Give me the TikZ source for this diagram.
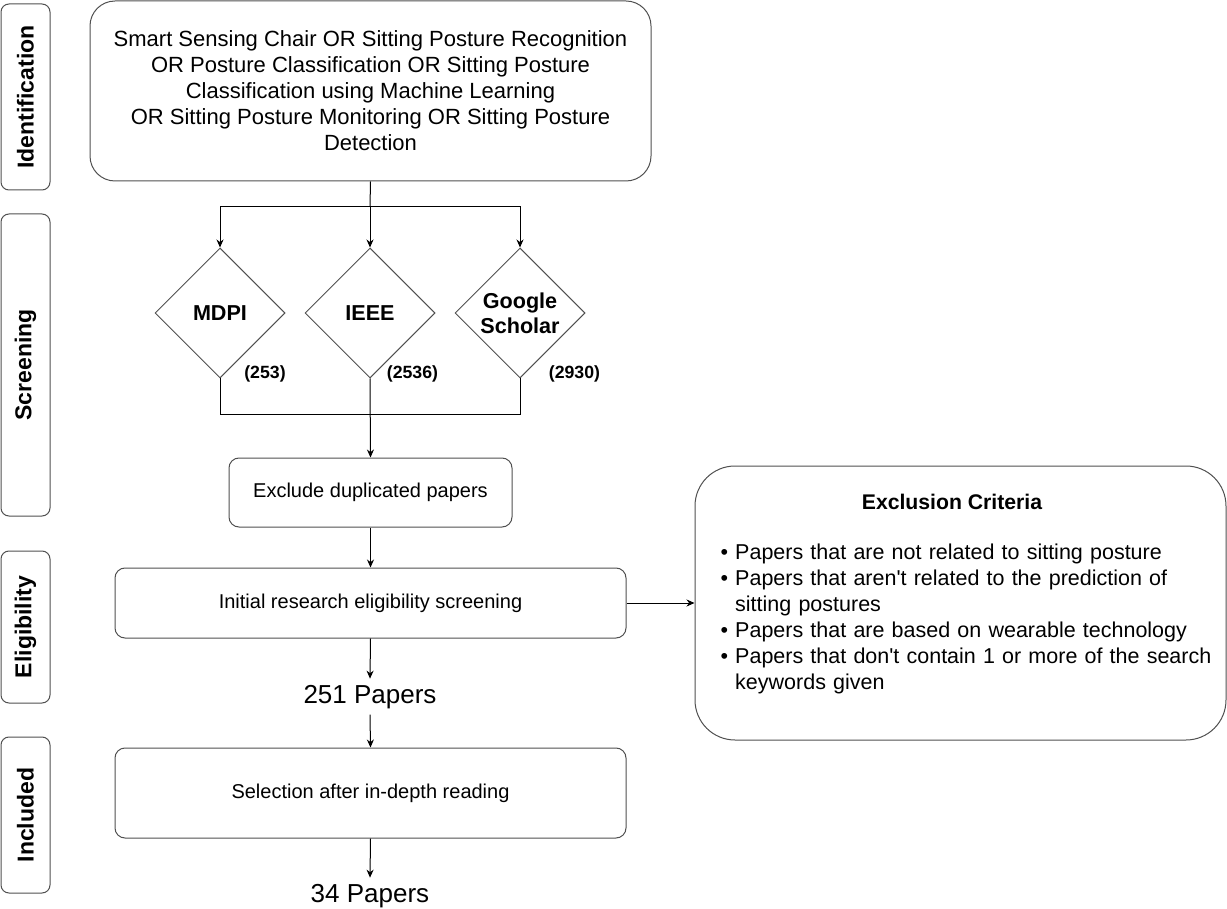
\documentclass[tikz,border=0pt]{standalone}
\usepackage{fontspec}
\setmainfont{Liberation Sans}
\usepackage{enumitem}
\usepackage{tikz}
\usetikzlibrary{calc}
\usetikzlibrary{arrows.meta}
\usetikzlibrary{shapes.geometric}
\usetikzlibrary{positioning}
\definecolor{shapegray}{RGB}{80, 80, 80}
\tikzset{
    stagebox/.style   = {draw=shapegray, line width=1pt, rounded corners=8pt, rotate=90, minimum height=49pt,
                         inner sep=0pt, font=\bfseries\fontsize{23}{27}\selectfont},
    flowbox/.style    = {draw=shapegray, line width=1pt, rounded corners=10pt, align=center, inner sep=0pt,
                         font=\fontsize{20}{24}\selectfont},
    sourcebox/.style  = {diamond, aspect=1, draw=shapegray, line width=1pt, minimum size=130pt, inner sep=0pt,
                         align=center, font=\bfseries\fontsize{21.6}{25}\selectfont},
    countlabel/.style = {inner sep=0pt, font=\bfseries\fontsize{17.7}{20}\selectfont},
    paperlabel/.style = {inner sep=6pt, font=\fontsize{26}{30}\selectfont},
    flowarrow/.style  = {line width=1pt, -{Stealth[length=8pt, width=7pt]}},
    flowline/.style   = {line width=1pt}
}
\begin{document}
\begin{tikzpicture}[x=1pt, y=-1pt]
            \useasboundingbox (0,0) rectangle (1227,909);
            \node[stagebox, minimum width=186pt] (identification) at ( 25.5,  97.0) {Identification};
            \node[stagebox, minimum width=302pt] (screening)      at ( 25.5, 365.0) {Screening};
            \node[stagebox, minimum width=152pt] (eligibility)    at ( 25.5, 627.0) {Eligibility};
            \node[stagebox, minimum width=156pt] (included)       at ( 25.5, 815.0) {Included};

            \node[flowbox, rounded corners=25pt, minimum width=561pt, minimum height=180pt,
                  font=\fontsize{22}{26}\selectfont] (query) at (370.5, 91.0)
                 {Smart Sensing Chair OR Sitting Posture Recognition\\
                  OR Posture Classification OR Sitting Posture\\
                  Classification using Machine Learning\\
                  OR Sitting Posture Monitoring OR Sitting Posture\\
                  Detection};

            \node[sourcebox] (mdpi)   at (220.0, 313.0) {MDPI};
            \node[sourcebox] (ieee)   at (370.0, 313.0) {IEEE};
            \node[sourcebox] (scholar) at (520.0, 313.0) {Google\\Scholar};
            \node[countlabel] (mdpicount)    at (265.0, 374.0) {(253)};
            \node[countlabel] (ieeecount)    at (412.5, 374.0) {(2536)};
            \node[countlabel] (scholarcount) at (574.5, 374.0) {(2930)};

            \node[flowbox, minimum width=283pt, minimum height=69pt] (dedup) at (370.5, 492.5) {Exclude duplicated papers};
            \node[flowbox, minimum width=511pt, minimum height=70pt] (screen) at (370.5, 603.0) {Initial research eligibility screening};
            \node[flowbox, minimum width=511pt, minimum height=90pt] (select) at (370.5, 793.0) {Selection after in-depth reading};

            \node[paperlabel, anchor=base] (papersA) at (370.0, 703.0) {251 Papers};
            \node[paperlabel, anchor=base] (papersB) at (370.0, 902.0) {34 Papers};

            \node[flowbox, rounded corners=40pt, minimum width=531pt, minimum height=274pt] (criteria) at (960.5, 603.0) {};
            \node[inner sep=0pt, font=\bfseries\fontsize{21.2}{25}\selectfont] (criteriatitle) at (952.0, 502.0) {Exclusion Criteria};
            \node[inner sep=0pt, anchor=north west, text width=505pt, font=\fontsize{21.5}{26}\selectfont] (criterialist) at (714.0, 533.0)
                 {\begin{itemize}[leftmargin=21pt, labelsep=7pt, itemsep=0pt, topsep=0pt, parsep=0pt, partopsep=0pt]
                  \item Papers that are not related to sitting posture
                  \item Papers that aren\textquotesingle t related to the prediction of\newline sitting postures
                  \item Papers that are based on wearable technology
                  \item Papers that don\textquotesingle t contain 1 or more of the search\newline keywords given
                  \end{itemize}};

            \coordinate (fork)  at (370.0, 207.0);
            \coordinate (merge) at (370.0, 415.0);
            \draw[flowline]  (query.south) -- (fork);
            \draw[flowarrow] (fork) -| (mdpi.north);
            \draw[flowarrow] (fork) -| (scholar.north);
            \draw[flowarrow] (fork) -- (ieee.north);
            \draw[flowline]  (mdpi.south) |- (merge);
            \draw[flowline]  (scholar.south) |- (merge);
            \draw[flowarrow] (ieee.south) -- (dedup.north);
            \draw[flowarrow] (dedup.south) -- (screen.north);
            \draw[flowarrow] (screen.east) -- (criteria.west);
            \draw[flowarrow] (screen.south) -- (papersA.north);
            \draw[flowarrow] (papersA.south) -- (select.north);
            \draw[flowarrow] (select.south) -- (papersB.north);
\end{tikzpicture}
\end{document}
